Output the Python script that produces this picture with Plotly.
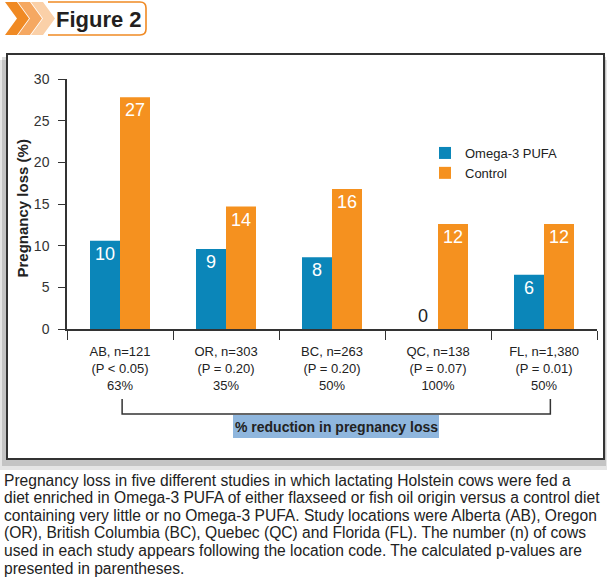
import plotly.graph_objects as go

# ---- data ----
categories = ['AB, n=121', 'OR, n=303', 'BC, n=263', 'QC, n=138', 'FL, n=1,380']
p_values = ['(P < 0.05)', '(P = 0.20)', '(P = 0.20)', '(P = 0.07)', '(P = 0.01)']
reductions = ['63%', '35%', '50%', '100%', '50%']
omega3 = [10.6, 9.6, 8.6, 0, 6.5]
control = [27.8, 14.7, 16.8, 12.6, 12.6]
omega3_labels = ['10', '9', '8', '0', '6']
control_labels = ['27', '14', '16', '12', '12']
y_ticks = [0, 5, 10, 15, 20, 25, 30]

caption_lines = [
    'Pregnancy loss in five different studies in which lactating Holstein cows were fed a',
    'diet enriched in Omega-3 PUFA of either flaxseed or fish oil origin versus a control diet',
    'containing very little or no Omega-3 PUFA. Study locations were Alberta (AB), Oregon',
    '(OR), British Columbia (BC), Quebec (QC) and Florida (FL). The number (n) of cows',
    'used in each study appears following the location code. The calculated p-values are',
    'presented in parentheses.',
]

# ---- styles ----
SANS = 'Liberation Sans, Arial, Helvetica, sans-serif'
BLUE = '#0b86b9'
ORANGE = '#f5911f'
DARK = '#222222'

L, R, T, B = 67, 597, 79, 329
W, H = R - L, B - T


def px(x):
    return (x - L) / W


def py(y):
    return (B - y) / H


fig = go.Figure()

fig.add_trace(go.Bar(
    x=categories, y=omega3, name='Omega-3 PUFA',
    marker=dict(color=BLUE, line=dict(width=0)),
    text=omega3_labels, texttemplate='%{text}',
    textposition=['inside' if v > 0 else 'outside' for v in omega3],
    insidetextanchor='end',
    insidetextfont=dict(color='white', size=18, family=SANS),
    outsidetextfont=dict(color=DARK, size=18, family=SANS),
    textangle=0, constraintext='none', cliponaxis=False,
))
fig.add_trace(go.Bar(
    x=categories, y=control, name='Control',
    marker=dict(color=ORANGE, line=dict(width=0)),
    text=control_labels, texttemplate='%{text}',
    textposition='inside', insidetextanchor='end',
    insidetextfont=dict(color='white', size=18, family=SANS),
    textangle=0, constraintext='none', cliponaxis=False,
))

ticktext = [f'{c}<br>{p}<br>{r}' for c, p, r in zip(categories, p_values, reductions)]

shapes = []
# frame shadow
shapes.append(dict(type='rect', xref='paper', yref='paper', layer='below',
                   x0=px(0), x1=px(607), y0=py(60), y1=py(470),
                   fillcolor='rgba(0,0,0,0.10)', line=dict(width=0)))
shapes.append(dict(type='rect', xref='paper', yref='paper', layer='below',
                   x0=px(2), x1=px(606), y0=py(57), y1=py(466),
                   fillcolor='rgba(0,0,0,0.14)', line=dict(width=0)))
shapes.append(dict(type='rect', xref='paper', yref='paper', layer='below',
                   x0=px(7), x1=px(604), y0=py(54), y1=py(459),
                   fillcolor='white', line=dict(color='#333333', width=2)))

# header box outline
box_pts = f'M {px(48):.5f},{py(2):.5f} L {px(140):.5f},{py(2):.5f} Q {px(146):.5f},{py(2):.5f} {px(146):.5f},{py(8):.5f} ' \
          f'L {px(146):.5f},{py(29):.5f} Q {px(146):.5f},{py(35):.5f} {px(140):.5f},{py(35):.5f} L {px(48):.5f},{py(35):.5f}'
shapes.append(dict(type='path', xref='paper', yref='paper', path=box_pts,
                   line=dict(color='#f08a24', width=1.6), layer='above'))
# header chevrons
chev_colors = ['#f08a24', '#f5a862', '#fad0a8']
for i, col in list(enumerate(chev_colors))[::-1]:
    x0 = 5 + 13 * i
    w, d = 12, 12
    top, bot, mid = 2, 35, 18.5
    pts = [(x0, top), (x0 + w, top), (x0 + w + d, mid), (x0 + w, bot), (x0, bot), (x0 + d, mid)]
    path = 'M ' + ' L '.join(f'{px(a):.5f},{py(b):.5f}' for a, b in pts) + ' Z'
    shapes.append(dict(type='path', xref='paper', yref='paper', path=path,
                       fillcolor=col, line=dict(width=0), layer='above'))

# bracket
shapes.append(dict(type='path', xref='x', yref='paper',
                   path=f'M 0.02,{py(399):.5f} L 0.02,{py(414):.5f} L 4.06,{py(414):.5f} L 4.06,{py(399):.5f}',
                   line=dict(color='#333333', width=1.5)))
# highlight box
shapes.append(dict(type='rect', xref='paper', yref='paper',
                   x0=px(233), x1=px(439), y0=py(415), y1=py(438),
                   fillcolor='#8fb6dd', line=dict(width=0)))

annotations = [
    dict(text='<b>Figure 2</b>', x=px(99), y=py(19), xref='paper', yref='paper',
         showarrow=False, xanchor='center', yanchor='middle',
         font=dict(family=SANS, size=22, color='#231f20')),
    dict(text='<b>Pregnancy loss (%)</b>', x=px(21.5), y=py(209), xref='paper', yref='paper',
         showarrow=False, textangle=-90, xanchor='center', yanchor='middle',
         font=dict(family=SANS, size=15, color=DARK)),
    dict(text='<b>% reduction in pregnancy loss</b>', x=px(336), y=py(426.5), xref='paper', yref='paper',
         showarrow=False, xanchor='center', yanchor='middle',
         font=dict(family=SANS, size=14, color=DARK)),
]
for i, line in enumerate(caption_lines):
    annotations.append(dict(text=line, x=px(2), y=py(480 + 17.6 * i), xref='paper', yref='paper',
                            showarrow=False, xanchor='left', yanchor='middle',
                            font=dict(family=SANS, size=15.6, color=DARK)))

fig.update_layout(
    width=610, height=580,
    margin=dict(l=L, r=610 - R, t=T, b=580 - B, pad=0),
    paper_bgcolor='white', plot_bgcolor='rgba(0,0,0,0)',
    barmode='group', bargap=0.434, bargroupgap=0,
    showlegend=True,
    legend=dict(x=px(425), y=py(138), xanchor='left', yanchor='top',
                font=dict(family=SANS, size=13, color=DARK),
                bgcolor='rgba(0,0,0,0)', itemclick=False),
    xaxis=dict(type='category', showgrid=False, zeroline=False,
               showline=True, linecolor='#333333', linewidth=1.5,
               ticks='outside', tickson='boundaries', ticklen=9, tickwidth=1.3, tickcolor='#333333',
               tickvals=categories, ticktext=ticktext, ticklabelstandoff=10,
               tickfont=dict(family=SANS, size=13, color=DARK), fixedrange=True),
    yaxis=dict(range=[0, 30], tickvals=y_ticks, showgrid=False, zeroline=False,
               showline=True, linecolor='#333333', linewidth=1.5,
               ticks='outside', ticklen=7, tickwidth=1.3, tickcolor='#333333',
               ticklabelstandoff=6,
               tickfont=dict(family=SANS, size=14, color='#333333'), fixedrange=True),
    shapes=shapes, annotations=annotations,
)

fig.write_html('out.html')
